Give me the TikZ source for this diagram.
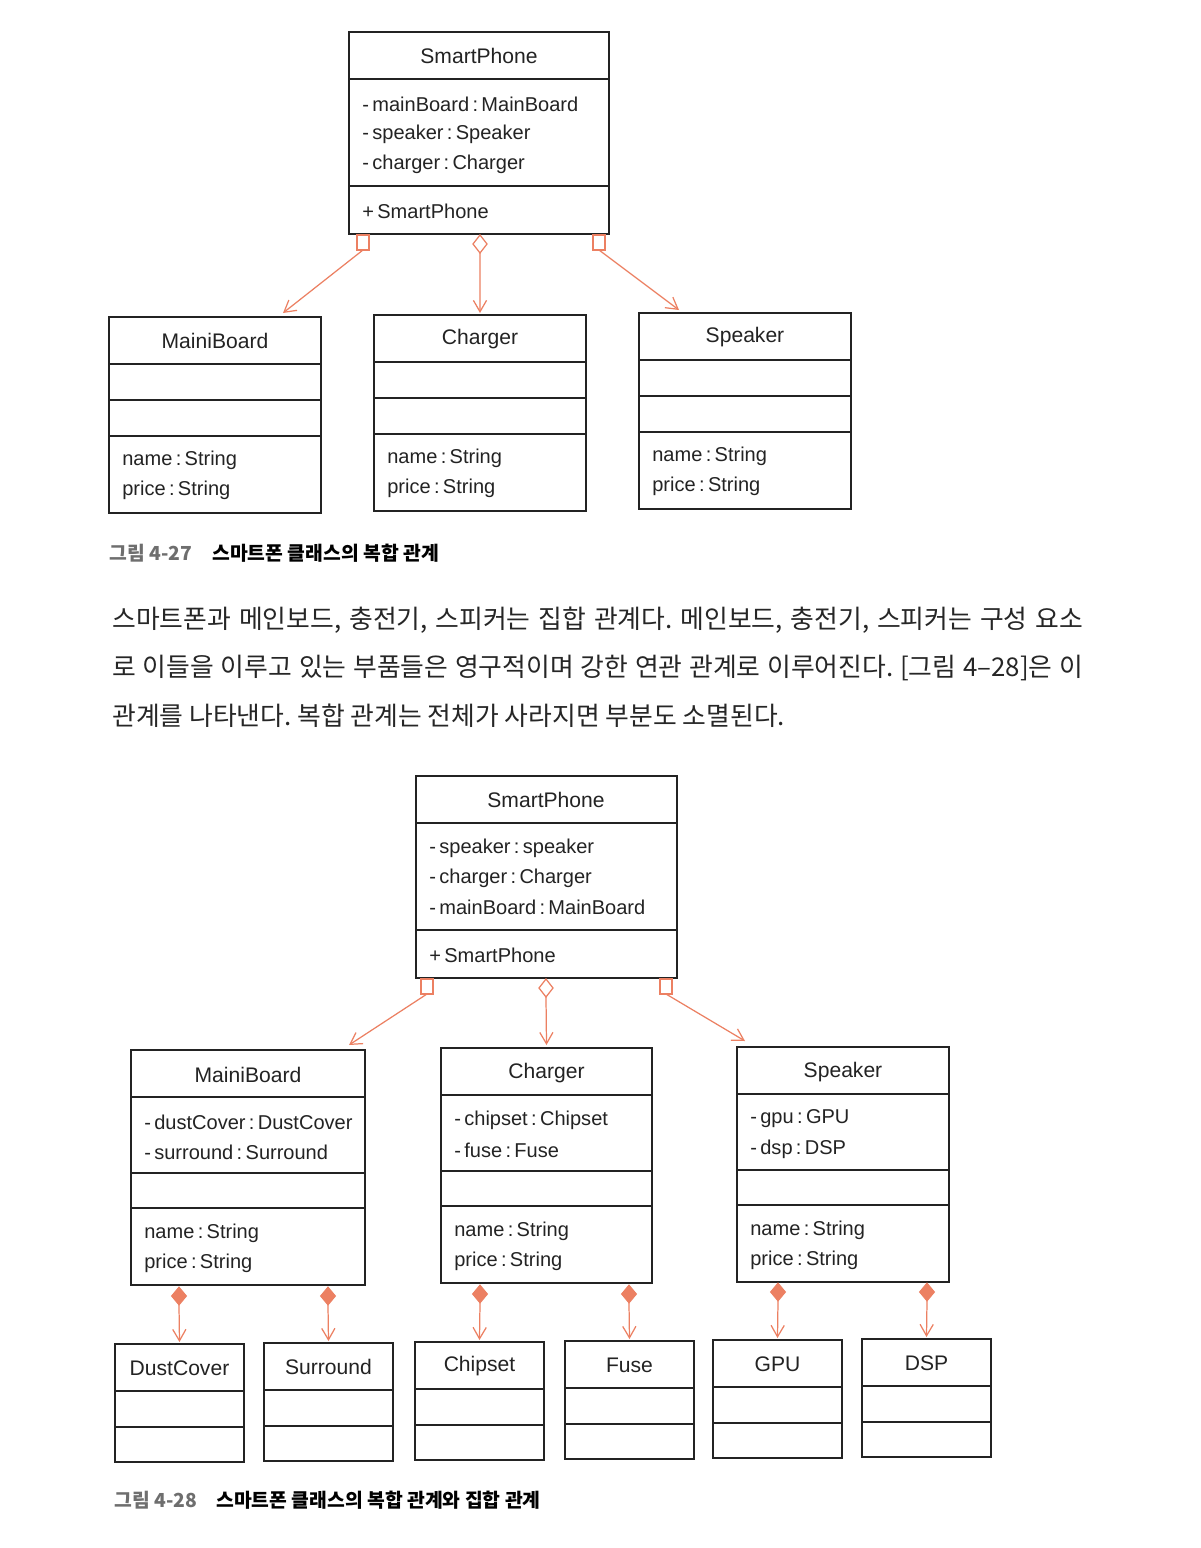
\documentclass[tikz,border=0pt]{standalone}
\usepackage{fontspec}
\setmainfont{Liberation Sans}
\newfontfamily\kor{Noto Sans CJK KR}
\usepackage{tikz}
\usetikzlibrary{
  arrows.meta,
  calc,
  shapes.geometric
}
\definecolor{linkorange}{RGB}{236,128,98}
\definecolor{capgray}{RGB}{110,110,110}
\definecolor{inkblack}{RGB}{35,35,35}

\begin{document}
\frenchspacing
\begin{tikzpicture}[x=0.02cm, y=-0.02cm,
  every node/.style={font=\fontsize{12}{14}\selectfont, text=inkblack},
  umlbox/.style={draw=inkblack, line width=1.1pt, fill=white, anchor=north west, inner sep=0pt, outer sep=0pt},
  divline/.style={draw=inkblack, line width=1.1pt},
  title/.style={anchor=center},
  attr/.style={anchor=west, inner sep=0pt, font=\fontsize{11.4}{14}\selectfont},
  hollowsq/.style={draw=linkorange, line width=0.7pt, fill=white, anchor=north, minimum width=0.24cm, minimum height=0.3cm, inner sep=0pt, outer sep=0pt},
  hollowdia/.style={diamond, draw=linkorange, line width=0.7pt, fill=white, anchor=north, minimum width=0.28cm, minimum height=0.36cm, inner sep=0pt, outer sep=0pt},
  soliddia/.style={diamond, draw=linkorange, fill=linkorange, line width=0.5pt, anchor=north, minimum width=0.3cm, minimum height=0.36cm, inner sep=0pt, outer sep=0pt},
  link/.style={draw=linkorange, line width=0.7pt, -{Straight Barb[length=6.5pt,width=7.5pt]}},
  capnum/.style={anchor=west, inner sep=0pt, text=capgray, font=\kor\bfseries\fontsize{11}{13}\selectfont},
  captxt/.style={anchor=west, inner sep=0pt, text=black, font=\kor\bfseries\fontsize{11}{13}\selectfont},
  body/.style={anchor=west, inner sep=0pt, text=black!85, font=\kor\fontsize{14.7}{17}\selectfont}
]
  \fill[white] (0,0) rectangle (1200,1548);
  \useasboundingbox (0,0) rectangle (1200,1548);

  % Figure 4-27
  \node[umlbox, minimum width=5.2cm, minimum height=4.04cm] (phoneA) at (349,32) {};
  \draw[divline] (349,79) -- (609,79) (349,186) -- (609,186);
  \node[title] at (479,56) {SmartPhone};
  \node[attr] at (362,104) {-\,mainBoard\,:\,MainBoard};
  \node[attr] at (362,134) {-\,speaker\,:\,Speaker};
  \node[attr] at (362,164) {-\,charger\,:\,Charger};
  \node[attr] at (362,211) {+\,SmartPhone};

  \foreach \nm/\x/\y/\lbl in {boardA/109/317/MainiBoard, chargerA/374/315/Charger, speakerA/639/313/Speaker} {
    \node[umlbox, minimum width=4.24cm, minimum height=3.92cm] (\nm) at (\x,\y) {};
    \draw[divline] (\x,\y+47) -- ++(212,0) (\x,\y+83) -- ++(212,0) (\x,\y+119) -- ++(212,0);
    \node[title] at (\x+106,\y+24) {\lbl};
    \node[attr] at (\x+13,\y+143) {name\,:\,String};
    \node[attr] at (\x+13,\y+173) {price\,:\,String};
  }

  \node[hollowsq] (sqA1) at (363,235) {};
  \node[hollowdia] (diaA) at (480,235) {};
  \node[hollowsq] (sqA2) at (599,235) {};
  \draw[link] (sqA1.south) -- ($(boardA.north west)+(174,-4)$);
  \draw[link] (diaA.south) -- ($(chargerA.north)+(0,-2)$);
  \draw[link] (sqA2.south) -- ($(speakerA.north west)+(40,-3)$);

  \node[capnum] (capA) at (109,553) {그림 4-27};
  \node[captxt] (capAtxt) at (212,553) {스마트폰 클래스의 복합 관계};

  % Text
  \node[body] (lineA) at (112,620) {\makebox[19.42cm][s]{스마트폰과 메인보드, 충전기, 스피커는 집합 관계다. 메인보드, 충전기, 스피커는 구성 요소}};
  \node[body] (lineB) at (112,668) {\makebox[19.42cm][s]{로 이들을 이루고 있는 부품들은 영구적이며 강한 연관 관계로 이루어진다. [그림 4–28]은 이}};
  \node[body] (lineC) at (112,716) {관계를 나타낸다. 복합 관계는 전체가 사라지면 부분도 소멸된다.};

  % Figure 4-28
  \node[umlbox, minimum width=5.22cm, minimum height=4.04cm] (phoneB) at (416,776) {};
  \draw[divline] (416,823) -- (677,823) (416,930) -- (677,930);
  \node[title] at (546,800) {SmartPhone};
  \node[attr] at (429,848) {-\,speaker\,:\,speaker};
  \node[attr] at (429,878) {-\,charger\,:\,Charger};
  \node[attr] at (429,907) {-\,mainBoard\,:\,MainBoard};
  \node[attr] at (429,955) {+\,SmartPhone};

  \foreach \nm/\x/\y/\w/\lbl/\ta/\tb in {boardB/131/1050/234/MainiBoard/{-\,dustCover\,:\,DustCover}/{-\,surround\,:\,Surround},
      chargerB/441/1048/211/Charger/{-\,chipset\,:\,Chipset}/{-\,fuse\,:\,Fuse},
      speakerB/737/1047/212/Speaker/{-\,gpu\,:\,GPU}/{-\,dsp\,:\,DSP}} {
    \node[umlbox, minimum width=\w*0.02cm, minimum height=4.7cm] (\nm) at (\x,\y) {};
    \draw[divline] (\x,\y+47) -- ++(\w,0) (\x,\y+123) -- ++(\w,0) (\x,\y+158) -- ++(\w,0);
    \node[title] at (\x+\w/2,\y+25) {\lbl};
    \node[attr] at (\x+13,\y+72) {\ta};
    \node[attr] at (\x+13,\y+102) {\tb};
    \node[attr] at (\x+13,\y+183) {name\,:\,String};
    \node[attr] at (\x+13,\y+213) {price\,:\,String};
  }

  \node[hollowsq] (sqB1) at (427,979) {};
  \node[hollowdia] (diaB) at (546,979) {};
  \node[hollowsq] (sqB2) at (666,979) {};
  \draw[link] (sqB1.south) -- ($(boardB.north west)+(218,-5)$);
  \draw[link] (diaB.south) -- ($(chargerB.north)+(0,-3)$);
  \draw[link] (sqB2.south) -- ($(speakerB.north west)+(8,-6)$);

  \foreach \nm/\x/\y/\lbl in {dust/115/1344/DustCover, surr/264/1343/Surround, chip/415/1342/Chipset,
      fuse/565/1341/Fuse, gpu/713/1340/GPU, dsp/862/1339/DSP} {
    \node[umlbox, minimum width=2.58cm, minimum height=2.36cm] (\nm) at (\x,\y) {};
    \draw[divline] (\x,\y+47) -- ++(129,0) (\x,\y+83) -- ++(129,0);
    \node[title] at (\x+64.5,\y+24) {\lbl};
  }

  \foreach \d/\x/\y/\tgt in {dmA/179/1287/dust, dmB/328/1287/surr, dmC/480/1285/chip,
      dmD/629/1285/fuse, dmE/778/1283/gpu, dmF/927/1283/dsp} {
    \node[soliddia] (\d) at (\x,\y) {};
    \draw[link] (\d.south) -- ($(\tgt.north)+(0,-2)$);
  }

  \node[capnum] (capB) at (114,1500) {그림 4-28};
  \node[captxt] (capBtxt) at (216,1500) {스마트폰 클래스의 복합 관계와 집합 관계};
\end{tikzpicture}
\end{document}
